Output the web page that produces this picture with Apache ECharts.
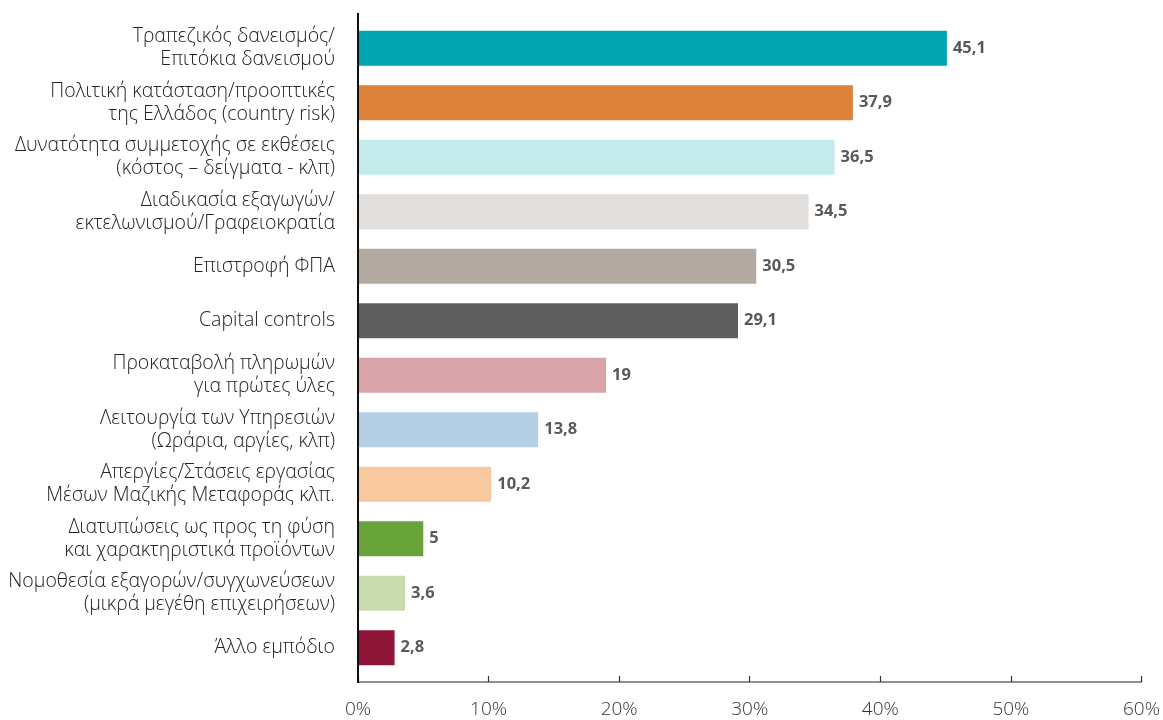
<!DOCTYPE html>
<html>
<head>
<meta charset="utf-8">
<script src="https://cdn.jsdelivr.net/npm/echarts@6/dist/echarts.min.js"></script>
<style>html,body{margin:0;padding:0;background:#fff}#c{width:1163px;height:720px}</style>
</head>
<body>
<div id="c"></div>
<script>
const categories = [
  "Τραπεζικός δανεισμός/\nΕπιτόκια δανεισμού",
  "Πολιτική κατάσταση/προοπτικές\nτης Ελλάδος (country risk)",
  "Δυνατότητα συμμετοχής σε εκθέσεις\n(κόστος – δείγματα - κλπ)",
  "Διαδικασία εξαγωγών/\nεκτελωνισμού/Γραφειοκρατία",
  "Επιστροφή ΦΠΑ",
  "Capital controls",
  "Προκαταβολή πληρωμών\nγια πρώτες ύλες",
  "Λειτουργία των Υπηρεσιών\n(Ωράρια, αργίες, κλπ)",
  "Απεργίες/Στάσεις εργασίας\nΜέσων Μαζικής Μεταφοράς κλπ.",
  "Διατυπώσεις ως προς τη φύση\nκαι χαρακτηριστικά προϊόντων",
  "Νομοθεσία εξαγορών/συγχωνεύσεων\n(μικρά μεγέθη επιχειρήσεων)",
  "Άλλο εμπόδιο"
];
const values = [45.1, 37.9, 36.5, 34.5, 30.5, 29.1, 19, 13.8, 10.2, 5, 3.6, 2.8];
const barColors = ["#00A4B1","#DD813B","#C4EBEB","#E2DEDB","#B2AAA1","#5E5E5E","#D8A4A9","#B5CFE6","#F8C99F","#68A43A","#C9DCAF","#8E1537"];
const xTicks = [0, 10, 20, 30, 40, 50, 60];

const chart = echarts.init(document.getElementById('c'), null, {renderer: 'canvas'});
const fontFam = '"Open Sans", sans-serif';
chart.setOption({
  animation: false,
  backgroundColor: '#fff',
  grid: {left: 358, right: 20, top: 21, bottom: 45, containLabel: false},
  xAxis: {
    type: 'value', min: xTicks[0], max: xTicks[xTicks.length-1], interval: 10,
    offset: 7,
    axisLine: {show: true, lineStyle: {color: '#6b6b6b', width: 1.5}},
    axisTick: {show: true, inside: true, length: 6, lineStyle: {color: '#333', width: 1.2}},
    splitLine: {show: false},
    axisLabel: {formatter: v => v + '%', color: '#333', fontSize: 19, fontFamily: fontFam, fontWeight: 300, margin: 18}
  },
  yAxis: {
    type: 'category', data: categories, inverse: true,
    axisLine: {show: false},
    axisTick: {show: false},
    axisLabel: {color: '#222', fontSize: 19.5, fontFamily: fontFam, fontWeight: 300, margin: 23, align: 'right', lineHeight: 23}
  },
  graphic: [{
    type: 'line', shape: {x1: 358, y1: 13, x2: 358, y2: 683},
    style: {stroke: '#111', lineWidth: 2}, z: 100
  }],
  series: [{
    type: 'bar',
    data: values.map((v, i) => ({value: v, itemStyle: {color: barColors[i]}})),
    barWidth: 35,
    label: {
      show: true, position: 'right', distance: 6,
      formatter: p => String(p.value).replace('.', ','),
      color: '#595959', fontSize: 16.5, fontWeight: 'bold', fontFamily: fontFam
    }
  }]
});
</script>
</body>
</html>
